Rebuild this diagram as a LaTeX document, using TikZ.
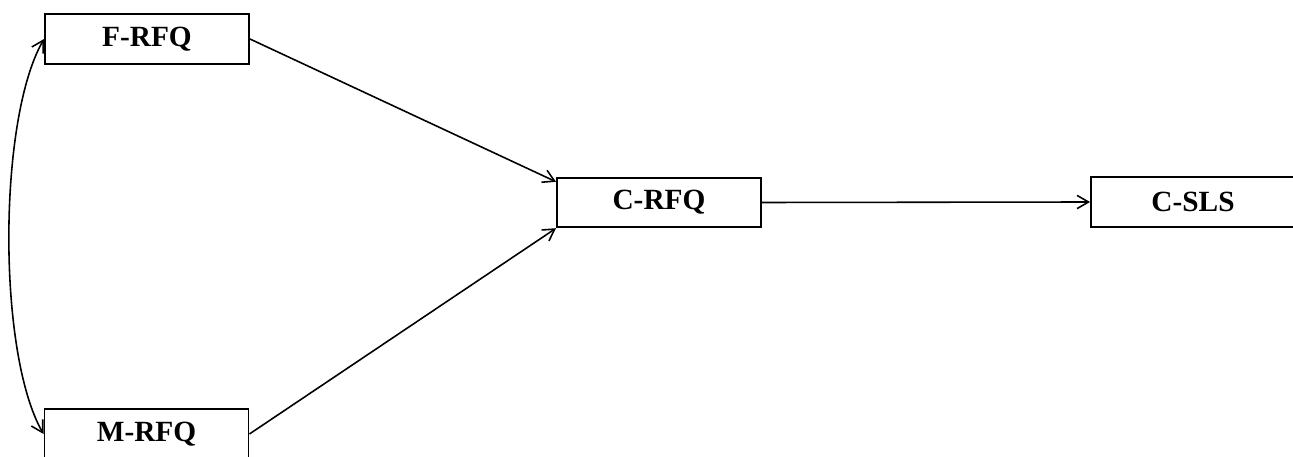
\documentclass[tikz,border=0pt]{standalone}
\usepackage{fontspec}
\setmainfont{Liberation Serif}
\usetikzlibrary{arrows.meta}

\begin{document}
\begin{tikzpicture}[x=0.02cm,y=0.02cm,
  box/.style={draw,line width=1.1pt,minimum width=4.08cm,minimum height=0.99cm,inner sep=0pt,
    font=\fontsize{16.7}{20}\selectfont\bfseries},
  link/.style={line width=0.9pt,-{Straight Barb[length=6.5pt,width=7.5pt]}}]
\useasboundingbox (0,0) rectangle (1293,456);
% the four measures
\node[box] (frfq) at (147,417) {F-RFQ};
\node[box] (mrfq) at (146.5,22) {M-RFQ};
\node[box] (crfq) at (659,253.5) {C-RFQ};
\node[box] (csls) at (1193,254) {C-SLS};
% paths
\draw[link] (frfq.east) -- ([yshift=-0.1cm]crfq.north west);
\draw[link] (mrfq.east) -- (crfq.south west);
\draw[link] (crfq.east) -- (csls.west);
% covariance between the two predictors
\draw[link,{Straight Barb[length=6.5pt,width=7.5pt]}-{Straight Barb[length=6.5pt,width=7.5pt]}]
  (frfq.west) to[out=240,in=120,looseness=0.6] (mrfq.west);
\end{tikzpicture}
\end{document}
